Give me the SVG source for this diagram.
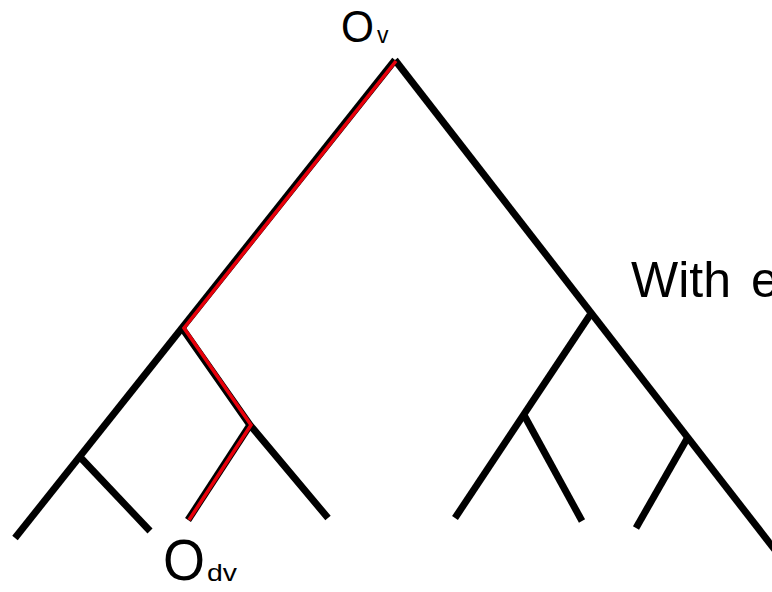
<svg xmlns="http://www.w3.org/2000/svg" width="772" height="592" viewBox="0 0 772 592">
  <style>
    .edge { stroke: #000; stroke-width: 7; fill: none; stroke-linecap: butt; stroke-linejoin: miter; }
    .path { stroke: #e8000b; stroke-width: 3.5; fill: none; stroke-linecap: butt; stroke-linejoin: miter; }
    .lbl { font-family: "Liberation Sans", Arial, sans-serif; fill: #000; }
  </style>
  <rect width="772" height="592" fill="#fff"/>
  <g id="connectors">
    <line class="edge" x1="395" y1="60" x2="15" y2="538"/>
    <line class="edge" x1="395" y1="60" x2="775" y2="550"/>
    <line class="edge" x1="80" y1="457" x2="150" y2="531"/>
    <polyline class="edge" points="182,328 250,425 328,518"/>
    <line class="edge" x1="250" y1="425" x2="188" y2="520"/>
    <line class="edge" x1="590" y1="315" x2="455" y2="518"/>
    <line class="edge" x1="524" y1="415" x2="582" y2="521"/>
    <line class="edge" x1="688" y1="437" x2="636" y2="528"/>
    <polyline class="path" points="396,61 184,328 251,425 189,520"/>
  </g>
  <g id="node-ov">
    <text class="lbl" x="341" y="42" font-size="45" textLength="33" lengthAdjust="spacingAndGlyphs">O</text>
    <text class="lbl" x="377" y="43" font-size="23">v</text>
  </g>
  <g id="node-odv">
    <text class="lbl" x="163" y="580" font-size="57" textLength="42" lengthAdjust="spacingAndGlyphs">O</text>
    <text class="lbl" x="207" y="581" font-size="24" textLength="30" lengthAdjust="spacingAndGlyphs">dv</text>
  </g>
  <g id="caption">
    <text class="lbl" x="631" y="297" font-size="50">With <tspan x="751">e</tspan></text>
  </g>
</svg>
